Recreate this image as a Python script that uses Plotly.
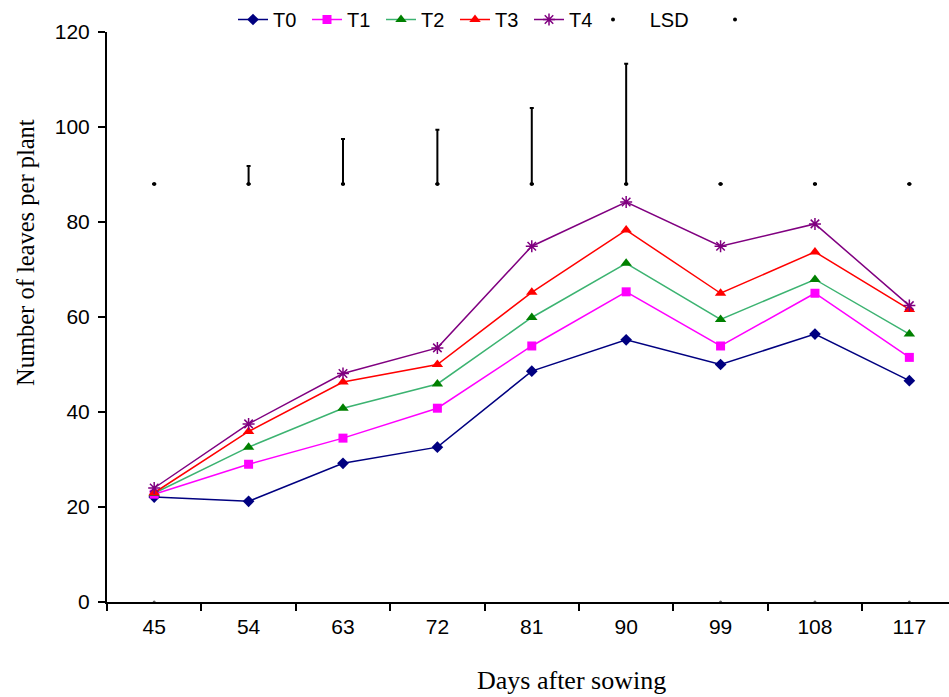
import plotly.graph_objects as go

days = ["45", "54", "63", "72", "81", "90", "99", "108", "117"]
T0 = [22.1, 21.2, 29.2, 32.6, 48.6, 55.2, 50.0, 56.4, 46.6]
T1 = [22.7, 29.0, 34.5, 40.8, 53.9, 65.3, 53.9, 65.0, 51.5]
T2 = [22.9, 32.6, 40.8, 45.9, 59.9, 71.3, 59.5, 67.9, 56.4]
T3 = [23.0, 35.9, 46.3, 50.0, 65.2, 78.3, 65.0, 73.7, 61.6]
T4 = [24.0, 37.5, 48.1, 53.5, 74.9, 84.2, 74.9, 79.6, 62.4]
lsd_base = [88] * 9
lsd = [0, 3.8, 9.5, 11.4, 16.0, 25.3, 0, 0, 0]
ns_days = ["45", "99", "108", "117"]
ns_vals = [0, 0, 0, 0]

fig = go.Figure()

styles = [
    ("T0", T0, "#000080", "#000080", "diamond", 9),
    ("T1", T1, "#FF00FF", "#FF00FF", "square", 9),
    ("T2", T2, "#3CB371", "#008000", "triangle-up", 10),
    ("T3", T3, "#FF0000", "#FF0000", "triangle-up", 10),
]
for name, vals, lc, mc, sym, sz in styles:
    fig.add_trace(go.Scatter(
        x=days, y=vals, name=name, mode="lines+markers",
        line=dict(color=lc, width=1.5),
        marker=dict(symbol=sym, size=sz, color=mc),
    ))

fig.add_trace(go.Scatter(
    x=days, y=T4, name="T4", mode="lines+markers",
    line=dict(color="#800080", width=1.5),
    marker=dict(symbol="asterisk", size=10, color="#800080",
                line=dict(color="#800080", width=1.5)),
))

fig.add_trace(go.Scatter(
    x=days, y=lsd_base, name="\u00a0\u00a0\u00a0LSD", mode="markers", legend="legend2",
    marker=dict(symbol="circle", size=4, color="black"),
    error_y=dict(type="data", array=lsd, arrayminus=[0] * 9, symmetric=False,
                 color="black", thickness=2, width=2),
))

fig.add_trace(go.Scatter(
    x=ns_days, y=ns_vals, name=" ", mode="markers", showlegend=False,
    marker=dict(symbol="circle", size=3, color="#666666"),
    cliponaxis=False,
))
fig.add_trace(go.Scatter(
    x=[None], y=[None], name=" ", mode="markers", legend="legend3",
    marker=dict(symbol="circle", size=4, color="black"),
))

leg_common = dict(orientation="h", xref="container", yref="container",
                  xanchor="left", y=1.0, yanchor="top",
                  font=dict(size=20), bgcolor="rgba(0,0,0,0)")

fig.update_layout(
    width=949, height=697,
    margin=dict(l=107, r=0, t=32, b=95, autoexpand=False),
    plot_bgcolor="white", paper_bgcolor="white",
    font=dict(family="Liberation Sans, Arial, sans-serif", size=20, color="black"),
    showlegend=True,
    legend=dict(x=233 / 949, entrywidth=29, entrywidthmode="pixels", **leg_common),
    legend2=dict(x=593 / 949, **leg_common),
    legend3=dict(x=715 / 949, **leg_common),
    annotations=[
        dict(text="Number of leaves per plant", xref="paper", yref="paper",
             x=-0.0974, y=0.614, xanchor="center", yanchor="middle",
             textangle=-90, showarrow=False,
             font=dict(family="Liberation Serif, Times New Roman, serif", size=24.5)),
        dict(text="Days after sowing", xref="paper", yref="paper",
             x=0.552, y=-0.137, xanchor="center", yanchor="middle", showarrow=False,
             font=dict(family="Liberation Serif, Times New Roman, serif", size=26)),
    ],
)

fig.update_xaxes(
    type="category", categoryorder="array", categoryarray=days,
    range=[-0.5, 8.42], showline=True, linecolor="black", linewidth=2,
    ticks="outside", tickson="boundaries", ticklen=7, tickwidth=2, tickcolor="black",
    showgrid=False, zeroline=False, ticklabelstandoff=5,
    tickfont=dict(size=21),
)
fig.update_yaxes(
    range=[0, 120], dtick=20, showline=True, linecolor="black", linewidth=2,
    ticks="outside", ticklen=7, tickwidth=2, tickcolor="black",
    showgrid=False, zeroline=False, ticklabelstandoff=4,
    tickfont=dict(size=21),
)

fig.write_html("out.html")
